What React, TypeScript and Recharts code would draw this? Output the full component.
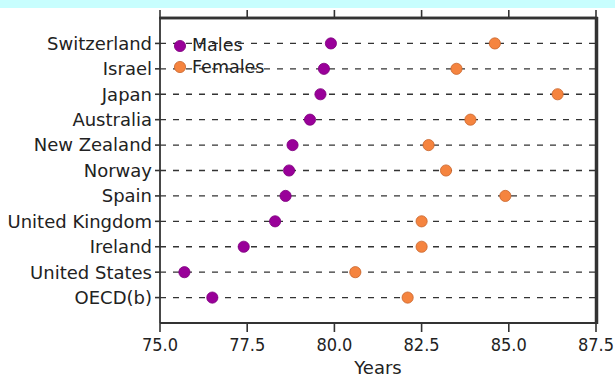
import React from 'react';
import { ScatterChart, Scatter, XAxis, YAxis, CartesianGrid } from 'recharts';

const countries = [
  'Switzerland',
  'Israel',
  'Japan',
  'Australia',
  'New Zealand',
  'Norway',
  'Spain',
  'United Kingdom',
  'Ireland',
  'United States',
  'OECD(b)',
];
const males = [79.9, 79.7, 79.6, 79.3, 78.8, 78.7, 78.6, 78.3, 77.4, 75.7, 76.5];
const females = [84.6, 83.5, 86.4, 83.9, 82.7, 83.2, 84.9, 82.5, 82.5, 80.6, 82.1];
const xTicks = [75.0, 77.5, 80.0, 82.5, 85.0, 87.5];
const seriesNames = ['Males', 'Females'];
const xTitle = 'Years';
const X_DOMAIN = [75, 87.5];
const Y_DOMAIN = [-1, 11];

const MALE_COLOR = '#990099';
const MALE_EDGE = '#7d007d';
const FEMALE_COLOR = '#f5843f';
const FEMALE_EDGE = '#c8642c';
const AXIS = '#333';

const maleData = countries.map((c, i) => ({ country: c, idx: i, value: males[i] }));
const femaleData = countries.map((c, i) => ({ country: c, idx: i, value: females[i] }));
const yTicks = countries.map((_, i) => i);

const FONT = "'DejaVu Sans', Verdana, sans-serif";
const FONT_COND = "'DejaVu Sans Condensed', 'DejaVu Sans', sans-serif";

const makeDot = (fill: string, stroke: string) => (props: any) => {
  const { cx, cy } = props;
  if (cx == null || cy == null) return <g />;
  return <circle cx={cx} cy={cy} r={5.6} fill={fill} stroke={stroke} strokeWidth={0.8} />;
};

const LegendBox = () => {
  const items = [
    { name: seriesNames[0], color: MALE_COLOR, edge: MALE_EDGE },
    { name: seriesNames[1], color: FEMALE_COLOR, edge: FEMALE_EDGE },
  ];
  return (
    <div
      style={{
        position: 'absolute',
        left: 173,
        top: 35,
        fontFamily: FONT,
        fontSize: 17.5,
        color: '#222',
        pointerEvents: 'none',
      }}
    >
      {items.map((it) => (
        <div key={it.name} style={{ display: 'flex', alignItems: 'center', height: 21.6 }}>
          <svg width={14} height={14} style={{ marginRight: 5 }}>
            <circle cx={7} cy={7} r={5.6} fill={it.color} stroke={it.edge} strokeWidth={0.8} />
          </svg>
          <span style={{ lineHeight: '21.6px' }}>{it.name}</span>
        </div>
      ))}
    </div>
  );
};

export default function App() {
  return (
    <div style={{ position: 'absolute', left: 0, top: 0, width: 615, height: 379, background: '#fff' }}>
      <div style={{ position: 'absolute', left: 0, top: 0, width: 615, height: 8, background: '#c8fefe' }} />
      <ScatterChart
        width={615}
        height={379}
        margin={{ top: 10, right: 18, bottom: 0, left: 0 }}
        style={{ position: 'absolute', left: 0, top: 0 }}
      >
        <CartesianGrid
          horizontal={true}
          vertical={false}
          stroke={AXIS}
          strokeWidth={1.4}
          strokeDasharray="6 7"
        />
        <XAxis
          xAxisId={0}
          type="number"
          dataKey="value"
          domain={X_DOMAIN}
          ticks={xTicks}
          allowDataOverflow
          height={56}
          tickSize={9}
          tickMargin={6}
          tickFormatter={(v: number) => v.toFixed(1)}
          tick={{ fontFamily: FONT_COND, fontSize: 18, fill: '#222', fontStretch: 'condensed' } as any}
          axisLine={{ stroke: AXIS, strokeWidth: 1.8 }}
          tickLine={{ stroke: AXIS, strokeWidth: 1.6 }}
          label={{ value: xTitle, position: 'insideBottom', offset: 5, fontFamily: FONT, fontSize: 18, fill: '#222' }}
        />
        <XAxis
          xAxisId="top"
          orientation="top"
          type="number"
          dataKey="value"
          domain={X_DOMAIN}
          ticks={xTicks}
          height={8}
          tickSize={8}
          tickFormatter={() => ''}
          axisLine={{ stroke: AXIS, strokeWidth: 2.5 }}
          tickLine={{ stroke: AXIS, strokeWidth: 1.6 }}
        />
        <YAxis
          yAxisId={0}
          type="number"
          dataKey="idx"
          domain={Y_DOMAIN}
          ticks={yTicks}
          interval={0}
          reversed
          allowDataOverflow
          width={160}
          tickSize={5}
          tickMargin={3}
          tickFormatter={(i: number) => countries[i] ?? ''}
          tick={{ fontFamily: FONT, fontSize: 18, fill: '#222' }}
          axisLine={{ stroke: AXIS, strokeWidth: 1.8 }}
          tickLine={{ stroke: AXIS, strokeWidth: 1.6 }}
        />
        <YAxis
          yAxisId="right"
          orientation="right"
          type="number"
          dataKey="idx"
          domain={Y_DOMAIN}
          reversed
          width={1}
          tickFormatter={() => ''}
          tickSize={0}
          axisLine={{ stroke: AXIS, strokeWidth: 2.5 }}
        />
        <Scatter
          name={seriesNames[0]}
          data={maleData}
          xAxisId={0}
          yAxisId={0}
          shape={makeDot(MALE_COLOR, MALE_EDGE)}
          isAnimationActive={false}
        />
        <Scatter
          name={seriesNames[1]}
          data={femaleData}
          xAxisId="top"
          yAxisId="right"
          shape={makeDot(FEMALE_COLOR, FEMALE_EDGE)}
          isAnimationActive={false}
        />
      </ScatterChart>
      <svg
        width={615}
        height={379}
        style={{ position: 'absolute', left: 0, top: 0, zIndex: 5, pointerEvents: 'none' }}
      >
        <line x1={159} y1={18} x2={598} y2={18} stroke={AXIS} strokeWidth={2.5} />
        <line x1={597} y1={17} x2={597} y2={324} stroke={AXIS} strokeWidth={2.5} />
      </svg>
      <div style={{ position: 'absolute', left: 0, top: 0, zIndex: 6 }}>
        <LegendBox />
      </div>
    </div>
  );
}
